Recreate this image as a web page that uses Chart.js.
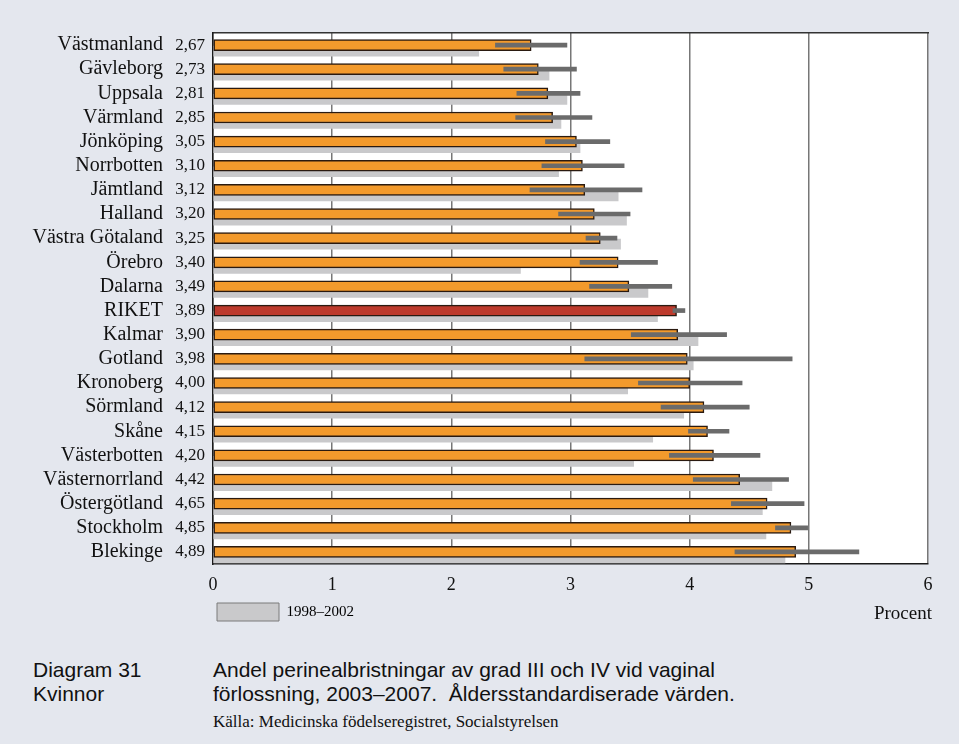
<!DOCTYPE html>
<html lang="sv">
<head>
<meta charset="utf-8">
<title>Diagram 31</title>
<script src="https://cdn.jsdelivr.net/npm/chart.js@4/dist/chart.umd.min.js"></script>
<style>
    body { margin: 0; background: #e4e7ee; width: 959px; height: 744px; position: relative; overflow: hidden; }
    #wrap { position: absolute; left: 0; top: 0; width: 959px; height: 640px; }
    .unit { position: absolute; right: 27px; top: 602px; font: 19px "Liberation Serif", serif; color: #111; }
    .cap { position: absolute; font-family: "Liberation Sans", Arial, sans-serif; color: #111; }
    .num { left: 33px; top: 658px; font-size: 21px; line-height: 24px; }
    .title { left: 213px; top: 658px; font-size: 21px; line-height: 24px; }
    .src { position: absolute; left: 213px; top: 712px; font: 17px "Liberation Serif", serif; color: #111; }
</style>
</head>
<body>
<div id="wrap"><canvas id="chart"></canvas></div>
<div class="unit">Procent</div>
<div class="cap num">Diagram 31<br>Kvinnor</div>
<div class="cap title">Andel perinealbristningar av grad III och IV vid vaginal<br>förlossning, 2003–2007.&nbsp; Åldersstandardiserade värden.</div>
<div class="src">Källa: Medicinska födelseregistret, Socialstyrelsen</div>
<script>
const regions = ["Västmanland", "Gävleborg", "Uppsala", "Värmland", "Jönköping", "Norrbotten", "Jämtland",
    "Halland", "Västra Götaland", "Örebro", "Dalarna", "RIKET", "Kalmar", "Gotland", "Kronoberg", "Sörmland",
    "Skåne", "Västerbotten", "Västernorrland", "Östergötland", "Stockholm", "Blekinge"];
// 2003-2007
const rate2003 = [2.67, 2.73, 2.81, 2.85, 3.05, 3.10, 3.12, 3.20, 3.25, 3.40, 3.49, 3.89, 3.90, 3.98, 4.00, 4.12,
    4.15, 4.20, 4.42, 4.65, 4.85, 4.89];
// confidence interval
const ciLow = [2.37, 2.44, 2.55, 2.54, 2.79, 2.76, 2.66, 2.90, 3.13, 3.08, 3.16, 3.86, 3.51, 3.12, 3.57, 3.76,
    3.99, 3.83, 4.03, 4.35, 4.72, 4.38];
const ciHigh = [2.97, 3.05, 3.08, 3.18, 3.33, 3.45, 3.60, 3.50, 3.39, 3.73, 3.85, 3.96, 4.31, 4.86, 4.44, 4.50,
    4.33, 4.59, 4.83, 4.96, 4.99, 5.42];
// 1998-2002
const rate1998 = [2.23, 2.82, 2.97, 2.92, 3.08, 2.90, 3.40, 3.47, 3.42, 2.58, 3.65, 3.73, 4.07, 4.03, 3.48, 3.95,
    3.69, 3.53, 4.69, 4.61, 4.64, 4.80];
const xTicks = [0, 1, 2, 3, 4, 5, 6];

const serif = "'Liberation Serif', 'Times New Roman', serif";
const greyShift = 0.25;

const rowTicks = (scale) => { scale.ticks = regions.map((_, i) => ({ value: i })); };

// white plot area
const plotBg = {
    id: "plotBg",
    beforeDraw(chart) {
        const a = chart.chartArea;
        chart.ctx.save();
        chart.ctx.fillStyle = "#ffffff";
        chart.ctx.fillRect(a.left, a.top, a.right - a.left, a.bottom - a.top);
        chart.ctx.restore();
    }
};

new Chart(document.getElementById("chart"), {
    type: "bar",
    plugins: [plotBg],
    data: {
        datasets: [
            {
                label: "ci",
                data: regions.map((_, i) => ({ y: i, x: [ciLow[i], ciHigh[i]] })),
                backgroundColor: "#6b6b6b",
                barThickness: 4,
                borderWidth: 0,
                order: 0
            },
            {
                label: "2003–2007",
                data: regions.map((_, i) => ({ y: i, x: rate2003[i] })),
                backgroundColor: regions.map(r => r === "RIKET" ? "#bd3a2c" : "#f39a2c"),
                borderColor: "#2a1a10",
                borderWidth: 1.5,
                borderSkipped: false,
                barThickness: 11,
                order: 1
            },
            {
                label: "1998–2002",
                data: regions.map((_, i) => ({ y: i + greyShift, x: rate1998[i] })),
                backgroundColor: "#c9c9cb",
                borderWidth: 0,
                barThickness: 10,
                order: 2
            }
        ]
    },
    options: {
        indexAxis: "y",
        responsive: true,
        maintainAspectRatio: false,
        animation: false,
        datasets: { bar: { grouped: false } },
        layout: { padding: { top: 33, right: 31, bottom: 9, left: 0 } },
        scales: {
            x: {
                type: "linear",
                position: "bottom",
                min: 0,
                max: 6,
                afterBuildTicks: (s) => { s.ticks = xTicks.map(v => ({ value: v })); },
                afterFit: (s) => { s.height = 35; },
                ticks: { font: { family: serif, size: 18 }, color: "#111", padding: 10 },
                grid: { color: "#777", lineWidth: 1.5, drawTicks: false },
                border: { color: "#1a1a1a", width: 1.5 }
            },
            xTop: {
                type: "linear",
                position: "top",
                min: 0,
                max: 6,
                afterFit: (s) => { s.height = 0; },
                ticks: { display: false },
                grid: { display: false, drawTicks: false },
                border: { color: "#333", width: 1.5 }
            },
            y: {
                type: "linear",
                position: "left",
                weight: 0,
                min: -0.5,
                max: 21.5,
                offset: false,
                reverse: true,
                afterBuildTicks: rowTicks,
                afterFit: (s) => { s.width = 43; },
                ticks: {
                    autoSkip: false,
                    font: { family: serif, size: 17 },
                    color: "#111",
                    padding: 8,
                    callback: (v) => rate2003[v].toFixed(2).replace(".", ",")
                },
                grid: { display: false, drawTicks: false },
                border: { color: "#1a1a1a", width: 1.5 }
            },
            yNames: {
                type: "linear",
                position: "left",
                weight: 1,
                min: -0.5,
                max: 21.5,
                offset: false,
                reverse: true,
                afterBuildTicks: rowTicks,
                afterFit: (s) => { s.width = 170; },
                ticks: {
                    autoSkip: false,
                    font: { family: serif, size: 20 },
                    color: "#111",
                    padding: 7,
                    callback: (v) => regions[v]
                },
                grid: { display: false, drawTicks: false },
                border: { display: false }
            }
        },
        plugins: {
            tooltip: { enabled: false },
            legend: {
                position: "bottom",
                align: "start",
                fullSize: false,
                labels: {
                    padding: 4,
                    boxWidth: 62,
                    boxHeight: 18,
                    color: "#111",
                    font: { family: serif, size: 15 },
                    generateLabels: () => [{
                        text: "1998–2002",
                        fillStyle: "#c9c9cb",
                        strokeStyle: "#7a7a7a",
                        lineWidth: 1,
                        datasetIndex: 2
                    }]
                }
            }
        }
    }
});
</script>
</body>
</html>
